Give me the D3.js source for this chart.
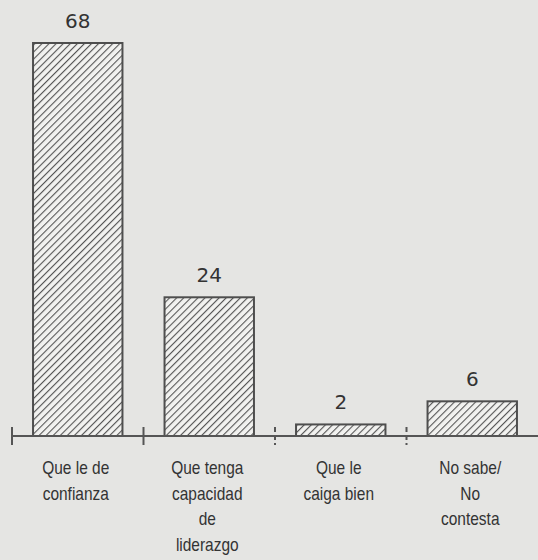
<!DOCTYPE html>
<html>
<head>
<meta charset="utf-8">
<script src="https://cdn.jsdelivr.net/npm/d3@7"></script>
<style>
  body { margin: 0; background: #e5e5e3; }
  svg { display: block; }
</style>
</head>
<body>
<div id="chart"></div>
<script>
var categories = ["Que le de confianza", "Que tenga capacidad de liderazgo", "Que le caiga bien", "No sabe/ No contesta"];
var labelLines = [["Que le de", "confianza"], ["Que tenga", "capacidad", "de", "liderazgo"], ["Que le", "caiga bien"], ["No sabe/", "No", "contesta"]];
var values = [68, 24, 2, 6];

var width = 538, height = 560;
var baseY = 436;

var svg = d3.select("#chart")
    .append("svg")
    .attr("width", width)
    .attr("height", height);

svg.append("rect")
    .attr("width", width)
    .attr("height", height)
    .attr("fill", "#e5e5e3");

// hatch pattern for the bars
var pat = svg.append("defs").append("pattern")
    .attr("id", "hatch")
    .attr("patternUnits", "userSpaceOnUse")
    .attr("width", 5)
    .attr("height", 5)
    .attr("patternTransform", "rotate(45)");
pat.append("rect").attr("width", 5).attr("height", 5).attr("fill", "#f2f2f0");
pat.append("line")
    .attr("x1", 0).attr("y1", 0).attr("x2", 0).attr("y2", 5)
    .attr("stroke", "#555")
    .attr("stroke-width", 2.2);

var xScale = d3.scaleBand()
    .domain(categories)
    .range([12, 538])
    .paddingInner(0.32)
    .paddingOuter(0.16);

var yScale = d3.scaleLinear()
    .domain([0, 68])
    .range([baseY, 43]);

var step = xScale.step();

// bars
svg.selectAll(".bar")
    .data(values)
    .enter().append("rect")
    .attr("class", "bar")
    .attr("x", function (d, i) { return xScale(categories[i]); })
    .attr("y", function (d) { return yScale(d); })
    .attr("width", xScale.bandwidth())
    .attr("height", function (d) { return baseY - yScale(d); })
    .attr("fill", "url(#hatch)")
    .attr("stroke", "#4e4e4e")
    .attr("stroke-width", 2);

// axis line
svg.append("line")
    .attr("x1", 12).attr("x2", 538)
    .attr("y1", baseY).attr("y2", baseY)
    .attr("stroke", "#555")
    .attr("stroke-width", 2);

// ticks between categories
var tickX = categories.map(function (c, i) { return 12 + i * step; });
svg.selectAll(".tick")
    .data(tickX)
    .enter().append("line")
    .attr("class", "tick")
    .attr("x1", function (d) { return d; })
    .attr("x2", function (d) { return d; })
    .attr("y1", baseY - 9)
    .attr("y2", baseY + 9)
    .attr("stroke", "#555")
    .attr("stroke-width", 2)
    .attr("stroke-dasharray", function (d, i) { return i < 2 ? null : "5,3"; });

// value labels
svg.selectAll(".val")
    .data(values)
    .enter().append("text")
    .attr("class", "val")
    .attr("x", function (d, i) { return xScale(categories[i]) + xScale.bandwidth() / 2; })
    .attr("y", function (d) { return yScale(d) - 15; })
    .attr("text-anchor", "middle")
    .style("font-family", "'DejaVu Sans', sans-serif")
    .style("font-size", "20px")
    .style("fill", "#333")
    .text(function (d) { return d; });

// category labels (condensed look via horizontal scale)
var cat = svg.selectAll(".cat")
    .data(labelLines)
    .enter().append("g")
    .attr("class", "cat")
    .attr("transform", function (d, i) {
        return "translate(" + (xScale(categories[i]) + xScale.bandwidth() / 2 - 2) + ",0) scale(0.86,1)";
    })
    .append("text")
    .attr("text-anchor", "middle")
    .style("font-family", "'Liberation Sans', Arial, sans-serif")
    .style("font-size", "18px")
    .style("fill", "#333");

cat.selectAll("tspan")
    .data(function (d) { return d; })
    .enter().append("tspan")
    .attr("x", 0)
    .attr("y", function (d, j) { return 474 + j * 25.7; })
    .text(function (d) { return d; });
</script>
</body>
</html>
